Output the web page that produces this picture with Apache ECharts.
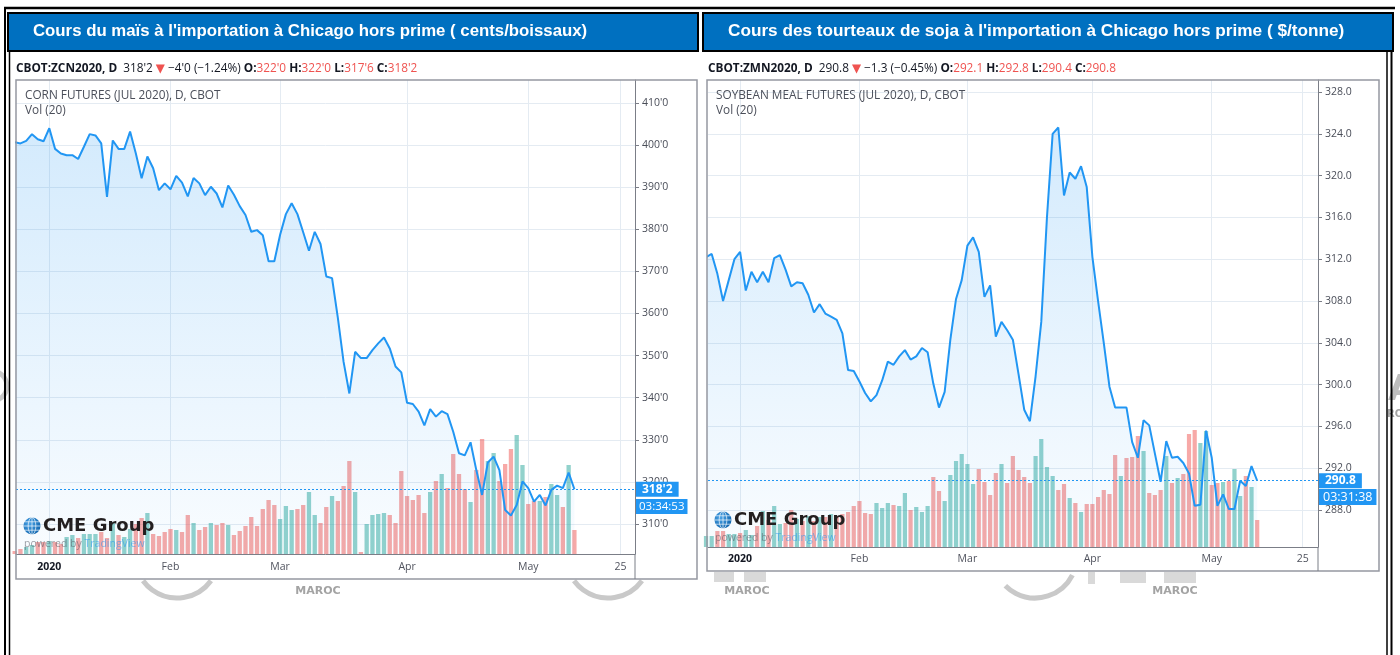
<!DOCTYPE html>
<html lang="fr">
<head>
<meta charset="utf-8">
<title>Cours du maïs et des tourteaux de soja à Chicago</title>
<script src="https://cdn.jsdelivr.net/npm/echarts@6.0.0/dist/echarts.min.js"></script>
<style>
  html, body { margin: 0; padding: 0; background: #fff; }
  #chart { width: 1400px; height: 655px; }
</style>
</head>
<body>
<div id="chart"></div>
<script>
// trading sessions on the time axis; the ones after 13 May are the empty right margin
const tradingDays = [
  '2019-12-23', '2019-12-24', '2019-12-26', '2019-12-27', '2019-12-30', '2019-12-31',
  '2020-01-02', '2020-01-03', '2020-01-06', '2020-01-07', '2020-01-08', '2020-01-09', '2020-01-10',
  '2020-01-13', '2020-01-14', '2020-01-15', '2020-01-16', '2020-01-17', '2020-01-21', '2020-01-22',
  '2020-01-23', '2020-01-24', '2020-01-27', '2020-01-28', '2020-01-29', '2020-01-30', '2020-01-31',
  '2020-02-03', '2020-02-04', '2020-02-05', '2020-02-06', '2020-02-07', '2020-02-10', '2020-02-11',
  '2020-02-12', '2020-02-13', '2020-02-14', '2020-02-18', '2020-02-19', '2020-02-20', '2020-02-21',
  '2020-02-24', '2020-02-25', '2020-02-26', '2020-02-27', '2020-02-28',
  '2020-03-02', '2020-03-03', '2020-03-04', '2020-03-05', '2020-03-06', '2020-03-09', '2020-03-10',
  '2020-03-11', '2020-03-12', '2020-03-13', '2020-03-16', '2020-03-17', '2020-03-18', '2020-03-19',
  '2020-03-20', '2020-03-23', '2020-03-24', '2020-03-25', '2020-03-26', '2020-03-27', '2020-03-30',
  '2020-03-31',
  '2020-04-01', '2020-04-02', '2020-04-03', '2020-04-06', '2020-04-07', '2020-04-08', '2020-04-09',
  '2020-04-13', '2020-04-14', '2020-04-15', '2020-04-16', '2020-04-17', '2020-04-20', '2020-04-21',
  '2020-04-22', '2020-04-23', '2020-04-24', '2020-04-27', '2020-04-28', '2020-04-29', '2020-04-30',
  '2020-05-01', '2020-05-04', '2020-05-05', '2020-05-06', '2020-05-07', '2020-05-08', '2020-05-11',
  '2020-05-12', '2020-05-13',
  '2020-05-14', '2020-05-15', '2020-05-18', '2020-05-19', '2020-05-20', '2020-05-21', '2020-05-22',
  '2020-05-25', '2020-05-26', '2020-05-27'
];

const timeTickDays = ['2020-01-02', '2020-02-03', '2020-03-02', '2020-04-01', '2020-05-01', '2020-05-25'];
const timeTickLabels = ['2020', 'Feb', 'Mar', 'Apr', 'May', '25'];

const cornPriceTicks = [310, 320, 330, 340, 350, 360, 370, 380, 390, 400, 410];
const soyPriceTicks = [288, 292, 296, 300, 304, 308, 312, 316, 320, 324, 328];

// corn, cents per bushel (daily close)
const cornClose = [
  400.7, 400.4, 401.0, 402.6, 401.4, 400.9,
  404.0, 399.1, 398.0, 397.6, 397.6, 396.7, 399.6, 402.6, 402.3, 400.4, 387.7, 401.1, 399.1, 399.1,
  403.2, 398.0, 392.1, 397.3, 394.5, 389.3, 390.9,
  389.5, 392.7, 391.1, 387.8, 392.2, 390.9, 388.1, 390.1, 388.5, 385.2, 390.4, 388.2, 385.5, 383.4,
  379.4, 379.8, 378.6, 372.4, 372.4,
  378.7, 383.6, 386.2, 383.6, 379.3, 374.9, 379.4, 376.5, 368.8, 368.4, 359.0, 348.5, 341.0, 350.9,
  349.4, 349.4, 351.3, 352.9, 354.3, 351.7, 347.4, 346.0,
  338.8, 338.5, 336.7, 333.4, 337.3, 335.5, 336.8, 336.1, 331.9, 326.8, 326.3, 329.4, 322.8, 316.9,
  324.6, 326.0, 322.8, 313.3, 312.0, 314.5, 320.1,
  318.5, 315.3, 316.9, 314.4, 318.1, 319.1, 318.5, 322.2, 318.25
];
const cornVolume = [
  3, 5, 7, 9, 12, 12,
  13, 12, 10, 17, 19, 16, 20, 20, 20, 22, 16, 32, 19, 17, 25, 30, 36, 41, 20, 18, 22,
  25, 24, 22, 39, 31, 24, 27, 31, 29, 31, 29, 19, 23, 28, 37, 28, 45, 54, 49,
  35, 48, 44, 45, 49, 62, 39, 31, 47, 58, 53, 68, 93, 62, 2, 30, 39, 40, 41, 39, 31, 83,
  58, 54, 59, 41, 62, 73, 80, 66, 100, 80, 65, 52, 84, 115, 93, 101, 73, 90, 105, 119, 89,
  50, 53, 53, 57, 70, 59, 47, 89, 24
];
// 1 = up session (green volume), 0 = down session (red volume)
const cornVolumeUp = [
  0, 0, 1, 1, 0, 0,
  1, 0, 0, 1, 1, 0, 1, 1, 1, 0, 0, 1, 0, 1, 1, 0, 0, 1, 0, 0, 0,
  0, 1, 0, 0, 1, 0, 0, 1, 0, 0, 1, 0, 0, 0, 0, 0, 0, 0, 0,
  1, 1, 1, 0, 0, 1, 1, 0, 0, 1, 0, 0, 0, 1, 0, 1, 1, 1, 1, 0, 0, 0,
  0, 0, 0, 0, 1, 0, 1, 0, 0, 0, 0, 1, 0, 0, 1, 1, 0, 0, 0, 1, 1,
  0, 0, 1, 0, 1, 1, 0, 1, 0
];

// soybean meal, dollars per short ton (daily close)
const soyClose = [
  312.2, 312.5, 310.6, 308.0, 310.0, 312.0,
  312.7, 309.0, 310.8, 309.8, 310.8, 309.8, 312.1, 312.4, 311.0, 309.4, 309.8, 309.7, 308.6, 306.9,
  307.7, 306.8, 306.5, 306.2, 304.9, 301.4, 301.3,
  300.3, 299.2, 298.4, 299.0, 300.4, 302.2, 301.9, 302.7, 303.3, 302.4, 302.7, 303.5, 303.1, 300.1,
  297.8, 299.3, 304.3, 308.2, 310.0,
  313.3, 314.1, 312.7, 308.4, 309.5, 304.6, 306.0, 305.2, 304.3, 301.0, 297.6, 296.5, 300.8, 306.0,
  316.0, 324.0, 324.6, 318.1, 320.3, 319.7, 320.9, 318.9,
  312.2, 308.0, 304.0, 299.8, 297.8, 297.8, 297.8, 294.5, 293.0, 296.6, 296.1, 293.4, 290.7, 294.6,
  293.0, 293.1, 292.5, 291.5, 288.4, 288.5, 295.6,
  293.0, 288.4, 289.5, 288.1, 288.1, 290.8, 290.3, 292.2, 290.8
];
const soyVolume = [
  11, 11, 16, 16, 13, 13,
  14, 17, 12, 21, 36, 27, 41, 23, 24, 37, 28, 26, 31, 26, 30, 30, 33, 31, 33, 35, 41,
  46, 34, 33, 44, 39, 44, 42, 41, 54, 37, 40, 35, 41, 70, 56, 46, 72, 86, 93,
  83, 63, 78, 65, 52, 74, 83, 64, 91, 77, 70, 64, 91, 108, 80, 71, 57, 63, 49, 44, 35, 43,
  43, 50, 57, 53, 92, 71, 89, 90, 111, 96, 54, 52, 57, 91, 64, 69, 73, 113, 117, 104, 116,
  62, 64, 65, 66, 78, 51, 71, 60, 27
];
const soyVolumeUp = [
  1, 1, 0, 0, 1, 1,
  0, 1, 1, 0, 1, 0, 1, 1, 0, 0, 1, 0, 1, 0, 1, 0, 1, 0, 0, 0, 0,
  0, 0, 0, 1, 1, 1, 0, 1, 1, 0, 1, 1, 1, 0, 0, 1, 1, 1, 1,
  1, 1, 0, 0, 0, 0, 1, 0, 0, 0, 0, 0, 1, 1, 1, 1, 0, 0, 1, 0, 1, 0,
  0, 0, 0, 0, 0, 1, 0, 0, 0, 1, 0, 0, 0, 1, 0, 1, 0, 0, 0, 1, 1,
  0, 0, 1, 0, 1, 1, 0, 1, 0
];

/* -------------------------------------------------------------------------- */
/*                                   Styles                                   */
/* -------------------------------------------------------------------------- */

const BLUE = '#2196f3';
const TEAL = 'rgba(38,166,154,0.5)';
const RED = 'rgba(239,83,80,0.5)';
const GRID_LINE = '#e4ebf2';
const AXIS_LINE = '#7b7e87';
const FRAME = '#9598a1';
const LABEL = '#4a4e59';
const FONT = '"Open Sans", "DejaVu Sans", sans-serif';

const fmtCorn = v => {
  const whole = Math.floor(v + 1e-9);
  return `${whole}'${Math.round((v - whole) * 8)}`;
};
const fmtSoy = v => v.toFixed(1);

const tickIdx = timeTickDays.map(d => tradingDays.indexOf(d));

const timeAxis = (gridIndex, min, max, margin) => ({
  gridIndex,
  type: 'value',
  min,
  max,
  axisLine: { show: true, onZero: false, lineStyle: { color: AXIS_LINE, width: 1 } },
  axisTick: { show: false, customValues: tickIdx },
  axisLabel: {
    customValues: tickIdx,
    margin,
    color: '#50535e',
    fontFamily: FONT,
    fontSize: 10.5,
    formatter: v => {
      const i = tickIdx.indexOf(Math.round(v));
      if (i < 0) return '';
      return i === 0 ? `{y|${timeTickLabels[i]}}` : timeTickLabels[i];
    },
    rich: { y: { fontFamily: FONT, fontSize: 10.5, fontWeight: 'bold', color: '#131722' } }
  },
  splitLine: { show: true, lineStyle: { color: GRID_LINE, width: 1 } }
});

const priceAxis = (gridIndex, min, max, ticks, fmt) => ({
  gridIndex,
  type: 'value',
  position: 'right',
  min,
  max,
  axisLine: { show: true, onZero: false, lineStyle: { color: AXIS_LINE, width: 1 } },
  axisTick: { show: true, inside: false, length: 4, customValues: ticks, lineStyle: { color: AXIS_LINE } },
  axisLabel: { customValues: ticks, margin: 7, color: LABEL, fontFamily: FONT, fontSize: 10.5, formatter: fmt },
  splitLine: { show: true, lineStyle: { color: GRID_LINE, width: 1 } }
});

const volumeAxis = (gridIndex, max) => ({
  gridIndex, type: 'value', min: 0, max, show: false, splitLine: { show: false }
});

const lineSeries = (axisIndex, yIndex, closes, fmt) => {
  const last = closes[closes.length - 1];
  return {
    type: 'line',
    xAxisIndex: axisIndex,
    yAxisIndex: yIndex,
    data: closes.map((v, i) => [i, v]),
    showSymbol: false,
    symbol: 'none',
    z: 3,
    emphasis: { disabled: true },
    lineStyle: { color: BLUE, width: 2 },
    areaStyle: {
      origin: 'start',
      color: new echarts.graphic.LinearGradient(0, 0, 0, 1, [
        { offset: 0, color: 'rgba(33,150,243,0.28)' },
        { offset: 1, color: 'rgba(33,150,243,0.04)' }
      ])
    },
    markLine: {
      silent: true,
      symbol: ['none', 'none'],
      lineStyle: { color: BLUE, type: [2, 2], width: 1 },
      label: {
        show: true,
        position: 'end',
        distance: 1,
        formatter: () => fmt(last),
        backgroundColor: BLUE,
        color: '#fff',
        fontFamily: FONT,
        fontSize: 12,
        fontWeight: 'bold',
        padding: [2, 6, 1, 6]
      },
      data: [{ yAxis: last }]
    }
  };
};

const volumeSeries = (axisIndex, yIndex, volumes, ups, width) => ({
  type: 'bar',
  xAxisIndex: axisIndex,
  yAxisIndex: yIndex,
  barWidth: width,
  z: 2,
  emphasis: { disabled: true },
  data: volumes.map((v, i) => ({ value: [i, v], itemStyle: { color: ups[i] ? TEAL : RED } }))
});

/* -------------------------------------------------------------------------- */
/*                              Decorations                                   */
/* -------------------------------------------------------------------------- */

const text = (x, y, str, style, z = 40) => ({
  type: 'text', x, y, z, silent: true,
  style: Object.assign({ text: str, verticalAlign: 'middle', textVerticalAlign: 'middle' }, style)
});
const line = (x1, y1, x2, y2, stroke, lineWidth, z = 60) => ({
  type: 'line', z, silent: true, shape: { x1, y1, x2, y2 }, style: { stroke, lineWidth }
});

const cmeLogo = (cx, cy) => {
  const r = 8.5;
  const white = 'rgba(255,255,255,0.85)';
  const chord = dy => Math.sqrt(r * r - dy * dy);
  return [
    {
      type: 'circle', z: 41, silent: true, shape: { cx, cy, r },
      style: {
        fill: new echarts.graphic.RadialGradient(0.35, 0.35, 0.8, [
          { offset: 0, color: '#4aa3e6' }, { offset: 1, color: '#0b5fa8' }
        ])
      }
    },
    { type: 'ellipse', z: 42, silent: true, shape: { cx, cy, rx: 3.8, ry: r }, style: { fill: 'none', stroke: white, lineWidth: 0.8 } },
    line(cx, cy - r, cx, cy + r, white, 0.8, 42),
    line(cx - r, cy, cx + r, cy, white, 0.8, 42),
    line(cx - chord(4.2), cy - 4.2, cx + chord(4.2), cy - 4.2, white, 0.8, 42),
    line(cx - chord(4.2), cy + 4.2, cx + chord(4.2), cy + 4.2, white, 0.8, 42),
    text(cx + 11, cy + 0.5, 'CME Group', { font: 'bold 18px "DejaVu Sans"', fill: '#231f20' }, 42),
    text(cx - 8, cy + 18, '{p|powered by} {t|TradingView}', {
      font: `10.5px ${FONT}`,
      fill: 'rgba(80,83,94,0.55)',
      rich: {
        p: { font: `10.5px ${FONT}`, fill: 'rgba(80,83,94,0.55)', color: 'rgba(80,83,94,0.55)' },
        t: { font: `10.5px ${FONT}`, fill: 'rgba(33,150,243,0.55)', color: 'rgba(33,150,243,0.55)' }
      }
    }, 42)
  ];
};

const infoLine = (x, y, symbol, last, change, o, h, l, c) => {
  const size = 11.8;
  const rich = {
    b: { font: `bold ${size}px ${FONT}`, fill: '#131722', color: '#131722' },
    n: { font: `${size}px ${FONT}`, fill: '#131722', color: '#131722' },
    r: { font: `${size}px ${FONT}`, fill: '#ef5350', color: '#ef5350' }
  };
  return text(x, y,
    `{b|${symbol}, D}  {n|${last}} {r|▼} {n|${change}} {b|O:}{r|${o}} {b|H:}{r|${h}} {b|L:}{r|${l}} {b|C:}{r|${c}}`,
    { font: `${size}px ${FONT}`, fill: '#131722', rich });
};

const watermarkArc = (cx, cy, r, a0, a1) => ({
  type: 'arc', z: 1, silent: true,
  shape: { cx, cy, r, startAngle: a0 * Math.PI, endAngle: a1 * Math.PI },
  style: { fill: 'none', stroke: '#c9c9c9', lineWidth: 5 }
});
const ghost = (x, y, width, height) => ({
  type: 'rect', z: 1, silent: true, shape: { x, y, width, height }, style: { fill: '#d9d9d9' }
});
const grey = { font: 'bold 11px "DejaVu Sans"', fill: '#a3a3a3', align: 'center', textAlign: 'center' };
const legend = { font: `11.8px ${FONT}`, fill: '#4a4e59' };

const graphics = [
  // watermark of the source page
  watermarkArc(177, 556, 42, 0.2, 0.8),
  watermarkArc(608, 556, 42, 0.2, 0.8),
  watermarkArc(1035, 556, 42, 0.15, 0.75),
  watermarkArc(-8, 386, 15, -0.5, 0.5),
  text(318, 591, 'MAROC', grey, 1),
  text(747, 591, 'MAROC', grey, 1),
  text(1175, 591, 'MAROC', grey, 1),
  ghost(714, 572, 20, 10),
  ghost(744, 572, 22, 10),
  ghost(1088, 572, 7, 12),
  ghost(1120, 572, 26, 11),
  ghost(1164, 572, 32, 11),
  text(1388, 391, 'A', { font: 'bold 36px "DejaVu Sans"', fill: '#bdbdbd' }, 1),
  text(1387, 414, 'RO', { font: 'bold 10px "DejaVu Sans"', fill: '#a3a3a3' }, 1),

  // page borders
  line(4, 8, 1395, 8, '#000', 2.5),
  line(5, 7, 5, 655, '#000', 2),
  line(9.5, 51, 9.5, 655, '#000', 1.5),
  line(1387, 51, 1387, 655, '#000', 1.5),
  line(1391.5, 51, 1391.5, 655, '#000', 2),

  // title bars
  { type: 'rect', z: 60, silent: true, shape: { x: 8, y: 13, width: 690, height: 38 }, style: { fill: '#0070c0', stroke: '#000', lineWidth: 2 } },
  { type: 'rect', z: 60, silent: true, shape: { x: 703, y: 13, width: 690, height: 38 }, style: { fill: '#0070c0', stroke: '#000', lineWidth: 2 } },
  text(33, 31.5, "Cours du maïs à l'importation à Chicago hors prime ( cents/boissaux)",
    { font: 'bold 16.8px "Liberation Sans", Arial, sans-serif', fill: '#fff' }, 61),
  text(728, 31.5, "Cours des tourteaux de soja à l'importation à Chicago hors prime ( $/tonne)",
    { font: 'bold 17.2px "Liberation Sans", Arial, sans-serif', fill: '#fff' }, 61),

  // quote lines
  infoLine(16, 68.5, 'CBOT:ZCN2020', "318'2", "−4'0 (−1.24%)", "322'0", "322'0", "317'6", "318'2"),
  infoLine(708, 68.5, 'CBOT:ZMN2020', '290.8', '−1.3 (−0.45%)', '292.1', '292.8', '290.4', '290.8'),

  // chart frames
  { type: 'rect', z: 30, silent: true, shape: { x: 16, y: 80, width: 681, height: 499 }, style: { fill: 'none', stroke: FRAME, lineWidth: 1.5 } },
  { type: 'rect', z: 30, silent: true, shape: { x: 707, y: 80, width: 672, height: 491 }, style: { fill: 'none', stroke: FRAME, lineWidth: 1.5 } },
  line(635, 554, 635, 579, AXIS_LINE, 1, 30),
  line(1318, 547, 1318, 571, AXIS_LINE, 1, 30),

  // legends inside the panes
  text(25, 96, 'CORN FUTURES (JUL 2020), D, CBOT', legend),
  text(25, 111, 'Vol (20)', legend),
  text(716, 95.5, 'SOYBEAN MEAL FUTURES (JUL 2020), D, CBOT', legend),
  text(716, 110.5, 'Vol (20)', legend),

  // countdown to the bar close
  { type: 'text', z: 45, silent: true, x: 636, y: 499,
    style: { text: '03:34:53', font: `11.5px ${FONT}`, fill: '#fff', backgroundColor: BLUE, padding: [2, 3, 1, 3] } },
  { type: 'text', z: 45, silent: true, x: 1319, y: 489,
    style: { text: '03:31:38', font: `12.5px ${FONT}`, fill: '#fff', backgroundColor: BLUE, padding: [2, 4, 1, 4] } },

  ...cmeLogo(32, 526),
  ...cmeLogo(723, 520)
];

/* -------------------------------------------------------------------------- */
/*                                   Chart                                    */
/* -------------------------------------------------------------------------- */

const chart = echarts.init(document.getElementById('chart'));

chart.setOption({
  animation: false,
  backgroundColor: '#fff',
  grid: [
    { left: 16, top: 80, width: 619, height: 474, containLabel: false },
    { left: 708, top: 80, width: 610, height: 467, containLabel: false }
  ],
  xAxis: [
    timeAxis(0, 0.23, 107.5, 8),
    timeAxis(1, 0.35, 107.7, 7)
  ],
  yAxis: [
    priceAxis(0, 302.87, 415.46, cornPriceTicks, fmtCorn),
    volumeAxis(0, 474),
    priceAxis(1, 284.46, 329.15, soyPriceTicks, fmtSoy),
    volumeAxis(1, 467)
  ],
  series: [
    volumeSeries(0, 1, cornVolume, cornVolumeUp, 4.3),
    lineSeries(0, 0, cornClose, fmtCorn),
    volumeSeries(1, 3, soyVolume, soyVolumeUp, 4.2),
    lineSeries(1, 2, soyClose, fmtSoy)
  ],
  graphic: { elements: graphics }
});
</script>
</body>
</html>
